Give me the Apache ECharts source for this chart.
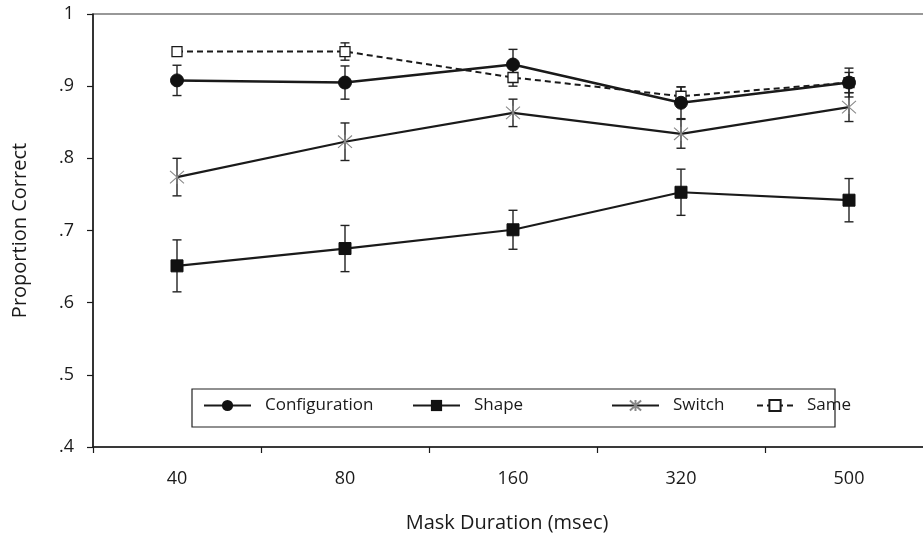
<!DOCTYPE html>
<html>
<head>
<meta charset="utf-8">
<script src="https://cdn.jsdelivr.net/npm/echarts@6/dist/echarts.min.js"></script>
<style>
  html, body { margin: 0; padding: 0; background: #fff; }
  #chart { width: 923px; height: 542px; }
</style>
</head>
<body>
<div id="chart"></div>
<script>
// Mask duration conditions (msec)
const categories = ['40', '80', '160', '320', '500'];

// Mean proportion correct per condition
const configMean = [0.908, 0.905, 0.930, 0.877, 0.905];
const shapeMean  = [0.651, 0.675, 0.701, 0.753, 0.742];
const switchMean = [0.774, 0.823, 0.863, 0.834, 0.871];
const sameMean   = [0.948, 0.948, 0.912, 0.886, 0.905];

// Error bar half-widths
const configErr = [0.021, 0.023, 0.021, 0.022, 0.020];
const shapeErr  = [0.036, 0.032, 0.027, 0.032, 0.030];
const switchErr = [0.026, 0.026, 0.019, 0.020, 0.020];
const sameErr   = [0.006, 0.012, 0.012, 0.013, 0.014];

// Y axis tick labels
const yTicks = { 0.4: '.4', 0.5: '.5', 0.6: '.6', 0.7: '.7', 0.8: '.8', 0.9: '.9', 1: '1' };

const FONT = '"Open Sans", "Noto Sans", sans-serif';
const INK = '#1a1a1a';

function errData(mean, err) {
  return mean.map((m, i) => [i, m - err[i], m + err[i]]);
}

function errorBars(name, mean, err) {
  return {
    name: name,
    type: 'custom',
    z: 1,
    silent: true,
    data: errData(mean, err),
    renderItem: function (params, api) {
      const x = api.value(0);
      const lo = api.coord([x, api.value(1)]);
      const hi = api.coord([x, api.value(2)]);
      const cap = 4.5;
      const style = { stroke: '#222', lineWidth: 1.4, fill: null };
      return {
        type: 'group',
        children: [
          { type: 'line', shape: { x1: lo[0], y1: lo[1], x2: hi[0], y2: hi[1] }, style: style },
          { type: 'line', shape: { x1: lo[0] - cap, y1: lo[1], x2: lo[0] + cap, y2: lo[1] }, style: style },
          { type: 'line', shape: { x1: hi[0] - cap, y1: hi[1], x2: hi[0] + cap, y2: hi[1] }, style: style }
        ]
      };
    }
  };
}

const starPath = 'path://M0,0L16,16M16,0L0,16M8,-1L8,17';

function legendAt(name, left, iconWidth) {
  return {
    data: [name],
    left: left,
    top: 397,
    padding: 0,
    itemWidth: iconWidth,
    itemHeight: 14,
    selectedMode: false,
    textStyle: { fontFamily: FONT, fontSize: 17, color: INK, padding: [0, 0, 0, 9] }
  };
}

const chart = echarts.init(document.getElementById('chart'), null, { renderer: 'canvas' });

chart.setOption({
  animation: false,
  backgroundColor: '#fff',
  grid: {
    left: 93, width: 840, top: 14, bottom: 95,
    outerBoundsMode: 'none',
    containLabel: false,
    show: true, borderColor: '#333', borderWidth: 1.2, backgroundColor: 'transparent'
  },
  xAxis: {
    type: 'category',
    data: categories,
    boundaryGap: true,
    axisLine: { lineStyle: { color: INK, width: 1.5 } },
    axisTick: { show: true, inside: false, length: 6, lineStyle: { color: INK, width: 1.2 } },
    axisLabel: { margin: 23, fontFamily: FONT, fontSize: 18, color: INK },
    splitLine: { show: false }
  },
  yAxis: {
    type: 'value',
    min: 0.4, max: 1, interval: 0.1,
    name: 'Proportion Correct',
    nameLocation: 'middle',
    nameGap: 63,
    nameTextStyle: { fontFamily: FONT, fontSize: 20, color: INK },
    axisLine: { show: true, lineStyle: { color: INK, width: 1.5 } },
    axisTick: { show: true, inside: false, length: 6, lineStyle: { color: INK, width: 1.2 } },
    axisLabel: {
      margin: 19, fontFamily: FONT, fontSize: 18, color: INK,
      formatter: v => yTicks[Math.round(v * 10) / 10] || ''
    },
    splitLine: { show: false }
  },
  legend: [
    legendAt('Configuration', 203, 47),
    legendAt('Shape', 412, 47),
    legendAt('Switch', 611, 47),
    legendAt('Same', 756, 36)
  ],
  graphic: [
    {
      type: 'rect', z: 0,
      shape: { x: 192, y: 389, width: 643, height: 38 },
      style: { fill: '#fff', stroke: '#222', lineWidth: 1.2 }
    },
    {
      type: 'text', z: 5,
      x: 507, y: 523,
      style: {
        text: 'Mask Duration (msec)', fontFamily: FONT, fontSize: 20, fill: INK,
        align: 'center', verticalAlign: 'middle'
      }
    }
  ],
  series: [
    errorBars('configErr', configMean, configErr),
    errorBars('shapeErr', shapeMean, shapeErr),
    errorBars('switchErr', switchMean, switchErr),
    errorBars('sameErr', sameMean, sameErr),
    {
      name: 'Same', type: 'line', z: 3, data: sameMean,
      symbol: 'rect', symbolSize: 10,
      lineStyle: { color: INK, width: 2, type: [6, 4] },
      itemStyle: { color: '#fff', borderColor: INK, borderWidth: 1.3 }
    },
    {
      name: 'Switch', type: 'line', z: 3, data: switchMean,
      symbol: starPath, symbolSize: [14, 14],
      lineStyle: { color: INK, width: 2.2 },
      itemStyle: { color: '#888', borderColor: '#888', borderWidth: 1.1 }
    },
    {
      name: 'Shape', type: 'line', z: 4, data: shapeMean,
      symbol: 'rect', symbolSize: 12,
      lineStyle: { color: INK, width: 2.2 },
      itemStyle: { color: '#111', borderColor: '#111' }
    },
    {
      name: 'Configuration', type: 'line', z: 4, data: configMean,
      symbol: 'circle', symbolSize: 13,
      lineStyle: { color: INK, width: 2.5 },
      itemStyle: { color: '#111', borderColor: '#111' }
    }
  ]
});
</script>
</body>
</html>
